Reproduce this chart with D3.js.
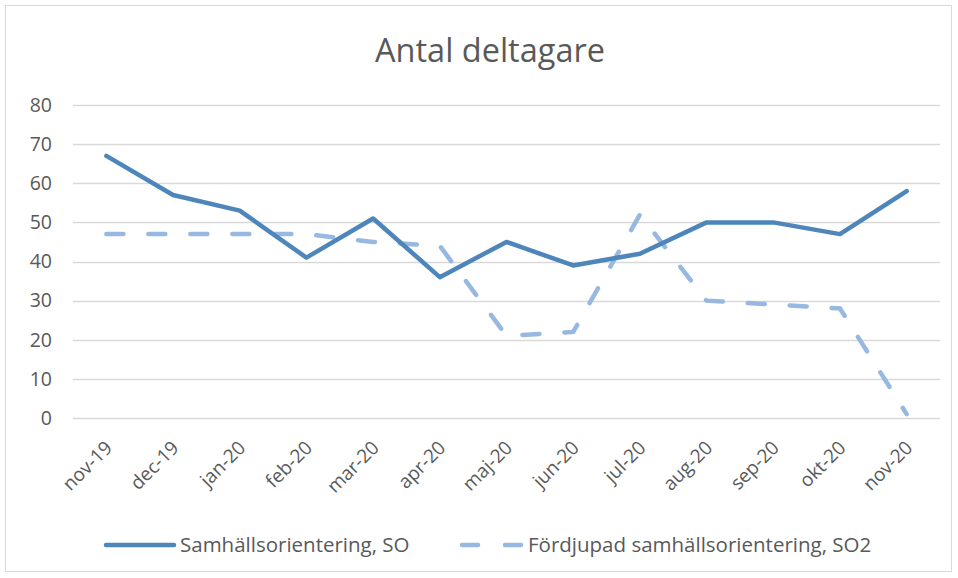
<html lang="sv">
  <head>
    <meta charset="UTF-8">
    <title>Antal deltagare</title>
    <script src="https://d3js.org/d3.v7.min.js"></script>
    <style>
      body, html { margin: 0; padding: 0; background: white; overflow: hidden; }
      svg { display: block; font-family: "Open Sans", sans-serif; }
    </style>
  </head>
  <body>
    <svg width="958" height="578"></svg>
    <script>
      const months = ["nov-19", "dec-19", "jan-20", "feb-20", "mar-20", "apr-20", "maj-20",
                      "jun-20", "jul-20", "aug-20", "sep-20", "okt-20", "nov-20"];
      const so = [67, 57, 53, 41, 51, 36, 45, 39, 42, 50, 50, 47, 58];
      const so2 = [47, 47, 47, 47, 45, 44, 21, 22, 52, 30, 29, 28, 1];
      const yTicks = [0, 10, 20, 30, 40, 50, 60, 70, 80];
      const seriesNames = ["Samhällsorientering, SO", "Fördjupad samhällsorientering, SO2"];

      const svg = d3.select("svg");
      const textColor = "#595959";

      // chart frame
      svg.append("rect")
        .attr("x", 5.5).attr("y", 5.5)
        .attr("width", 946).attr("height", 566)
        .attr("fill", "white").attr("stroke", "#d9d9d9");

      const x = d3.scaleBand().domain(months).range([73, 940]);
      const y = d3.scaleLinear().domain([0, 80]).range([418, 105]);

      svg.append("text")
        .attr("x", 490).attr("y", 62)
        .attr("text-anchor", "middle")
        .attr("font-size", 32.5)
        .attr("fill", textColor)
        .text("Antal deltagare");

      // gridlines
      svg.append("g").selectAll("line")
        .data(yTicks)
        .join("line")
        .attr("x1", 73).attr("x2", 940)
        .attr("y1", d => Math.round(y(d)) + 0.5)
        .attr("y2", d => Math.round(y(d)) + 0.5)
        .attr("stroke", "#d9d9d9").attr("stroke-width", 1.3);

      const yAxis = svg.append("g")
        .attr("transform", "translate(73,0)")
        .call(d3.axisLeft(y).tickValues(yTicks).tickSize(0).tickPadding(21));
      yAxis.select(".domain").remove();
      yAxis.selectAll("text")
        .attr("font-size", 19.5)
        .attr("font-family", "Open Sans, sans-serif")
        .attr("fill", textColor);

      const xAxis = svg.append("g")
        .attr("transform", "translate(0,418)")
        .call(d3.axisBottom(x).tickSize(0).tickPadding(0));
      xAxis.select(".domain").remove();
      xAxis.selectAll("text")
        .attr("font-size", 19)
        .attr("font-family", "Open Sans, sans-serif")
        .attr("fill", textColor)
        .attr("text-anchor", "end")
        .attr("dy", null)
        .attr("transform", "translate(7,31) rotate(-45)");

      const line = d3.line()
        .x((d, i) => x(months[i]) + x.bandwidth() / 2)
        .y(d => y(d));

      svg.append("path")
        .datum(so2)
        .attr("d", line)
        .attr("fill", "none")
        .attr("stroke", "#97b8e0")
        .attr("stroke-width", 4.5)
        .attr("stroke-linecap", "round")
        .attr("stroke-dasharray", "17,25");

      svg.append("path")
        .datum(so)
        .attr("d", line)
        .attr("fill", "none")
        .attr("stroke", "#4e86bc")
        .attr("stroke-width", 4.5)
        .attr("stroke-linejoin", "round")
        .attr("stroke-linecap", "round");

      // legend
      const legend = svg.append("g");
      legend.append("line")
        .attr("x1", 106).attr("x2", 174).attr("y1", 545).attr("y2", 545)
        .attr("stroke", "#4e86bc").attr("stroke-width", 4.5).attr("stroke-linecap", "round");
      legend.append("text")
        .attr("x", 180).attr("y", 552)
        .attr("font-size", 20.5).attr("fill", textColor)
        .text(seriesNames[0]);
      legend.append("line")
        .attr("x1", 462).attr("x2", 524).attr("y1", 545).attr("y2", 545)
        .attr("stroke", "#97b8e0").attr("stroke-width", 4.5).attr("stroke-linecap", "round")
        .attr("stroke-dasharray", "16,27");
      legend.append("text")
        .attr("x", 528).attr("y", 552)
        .attr("font-size", 20.5).attr("fill", textColor)
        .text(seriesNames[1]);
    </script>
  </body>
</html>
